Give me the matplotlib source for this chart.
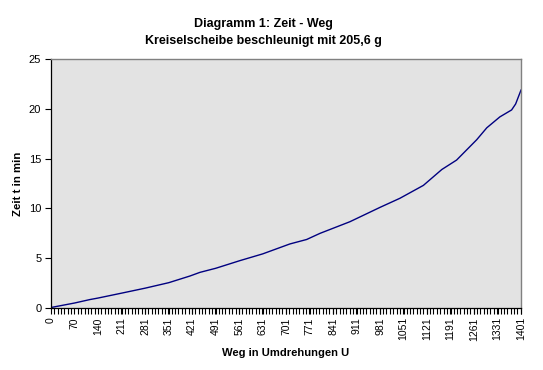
import numpy as np
import matplotlib
matplotlib.use("Agg")
import matplotlib.pyplot as plt

# Data
weg_u = [0, 70, 116, 140, 211, 281, 351, 414, 444, 491, 563, 631, 712, 762,
         802, 891, 981, 1040, 1110, 1165, 1209, 1269, 1299, 1338, 1373, 1385, 1401]
zeit_min = [0.0, 0.45, 0.8, 0.95, 1.45, 1.95, 2.5, 3.17, 3.54, 3.95, 4.72, 5.4, 6.4, 6.85,
            7.47, 8.64, 10.09, 11.0, 12.3, 13.9, 14.85, 16.9, 18.1, 19.2, 19.9, 20.5, 21.9]
x_tick_labels = [0, 70, 140, 211, 281, 351, 421, 491, 561, 631, 701, 771, 841, 911,
                 981, 1051, 1121, 1191, 1261, 1331, 1401]
y_ticks = [0, 5, 10, 15, 20, 25]

title = "Diagramm 1: Zeit - Weg\nKreiselscheibe beschleunigt mit 205,6 g"

plt.rcParams['font.family'] = ['Liberation Sans', 'DejaVu Sans']

fig = plt.figure(figsize=(5.43, 3.70), dpi=100)
ax = fig.add_axes([51/543, 1 - 307.5/370, (521 - 51)/543, (307.5 - 59.3)/370])
ax.set_facecolor('#E3E3E3')

ax.plot(weg_u, zeit_min, color='#000080', lw=1.0)

ax.set_xlim(0, 1401)
ax.set_ylim(0, 25)
ax.set_yticks(y_ticks)
ax.set_xticks(x_tick_labels)
ax.set_xticklabels([str(v) for v in x_tick_labels], rotation=90, fontsize=7.5)
ax.set_xticks(np.arange(0, 1402, 10), minor=True)
ax.tick_params(axis='x', which='both', direction='out', length=4, width=0.8, pad=3)
ax.tick_params(axis='y', which='major', direction='out', length=4, width=0.8, labelsize=8, pad=3)

for s in ['left', 'bottom']:
    ax.spines[s].set_color('black')
    ax.spines[s].set_linewidth(0.9)
for s in ['top', 'right']:
    ax.spines[s].set_color('#808080')
    ax.spines[s].set_linewidth(1.0)

fig.text(263/543, 1 - 32.5/370, title, ha='center', va='center', fontsize=9, fontweight='bold',
         linespacing=1.55)
ax.set_xlabel("Weg in Umdrehungen U", fontsize=8.1, fontweight='bold', labelpad=5)
ax.set_ylabel("Zeit t in min", fontsize=8.2, fontweight='bold', labelpad=4)

fig.savefig("out.png", dpi=100)
